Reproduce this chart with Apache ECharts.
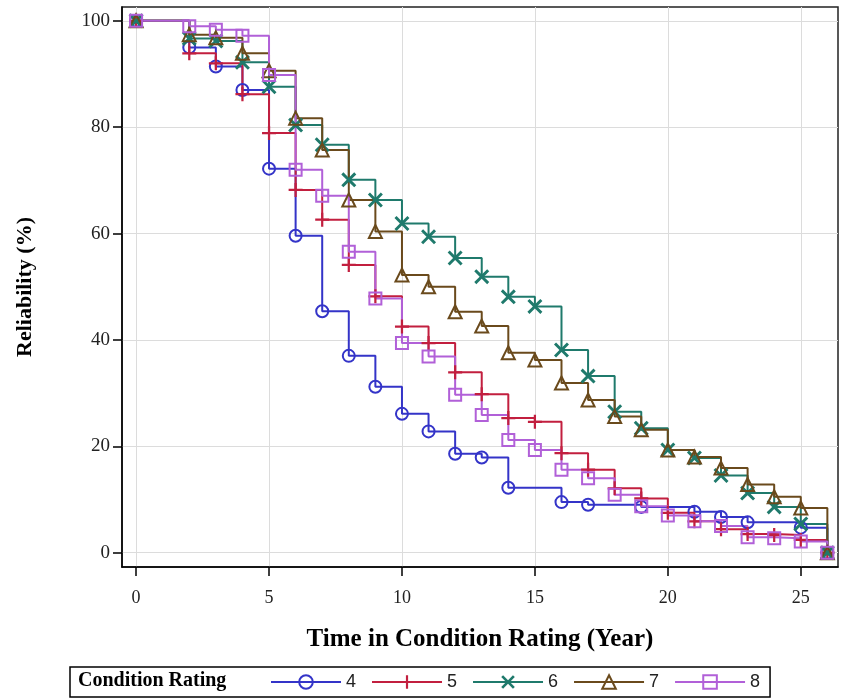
<!DOCTYPE html>
<html>
<head>
<meta charset="utf-8">
<title>Reliability by Condition Rating</title>
<script src="https://cdn.jsdelivr.net/npm/echarts@6/dist/echarts.min.js"></script>
<style>
  html, body { margin: 0; padding: 0; background: #fff; }
  #chart { width: 841px; height: 698px; }
</style>
</head>
<body>
<div id="chart"></div>
<script>
// --- data (time in years, reliability %) ---
const times4 = [0, 2, 3, 4, 5, 6, 7, 8, 9, 10, 11, 12, 13, 14, 16, 17, 19, 21, 22, 23, 25, 26]
const rel4 = [100, 95, 91.4, 87, 72.2, 59.6, 45.4, 37, 31.2, 26.1, 22.8, 18.6, 17.9, 12.2, 9.5, 9.0, 8.6, 7.7, 6.7, 5.7, 4.7, 0]

const times5 = [0, 2, 3, 4, 5, 6, 7, 8, 9, 10, 11, 12, 13, 14, 15, 16, 17, 18, 19, 20, 21, 22, 23, 24, 25, 26]
const rel5 = [100, 93.9, 92, 86.2, 78.9, 68.2, 62.6, 54.1, 48.2, 42.5, 39.4, 33.9, 29.8, 25.3, 24.6, 18.7, 15.6, 12.1, 10.2, 7.5, 5.9, 4.4, 3.5, 3.3, 2.4, 0]

const times6 = [0, 2, 3, 4, 5, 6, 7, 8, 9, 10, 11, 12, 13, 14, 15, 16, 17, 18, 19, 20, 21, 22, 23, 24, 25, 26]
const rel6 = [100, 96.7, 96.2, 92.2, 87.6, 80.4, 76.7, 70.1, 66.3, 61.9, 59.4, 55.4, 51.9, 48.1, 46.3, 38.1, 33.2, 26.5, 23.4, 19.3, 17.8, 14.5, 11.2, 8.6, 5.4, 0]

const times7 = [0, 2, 3, 4, 5, 6, 7, 8, 9, 10, 11, 12, 13, 14, 15, 16, 17, 18, 19, 20, 21, 22, 23, 24, 25, 26]
const rel7 = [100, 97.4, 96.8, 93.9, 90.6, 81.7, 75.7, 66.3, 60.4, 52.2, 50.0, 45.3, 42.6, 37.6, 36.2, 31.9, 28.7, 25.6, 23.1, 19.3, 18.0, 15.9, 12.8, 10.5, 8.4, 0]

const times8 = [0, 2, 3, 4, 5, 6, 7, 8, 9, 10, 11, 12, 13, 14, 15, 16, 17, 18, 19, 20, 21, 22, 23, 24, 25, 26]
const rel8 = [100, 99.0, 98.3, 97.2, 89.8, 72.0, 67.1, 56.6, 47.8, 39.4, 36.9, 29.7, 25.9, 21.2, 19.3, 15.6, 14.0, 10.9, 8.7, 7.0, 5.9, 5.0, 2.9, 2.7, 2.1, 0]

const ratingNames = ['4', '5', '6', '7', '8']
const xTicks = [0, 5, 10, 15, 20, 25]
const yTicks = [0, 20, 40, 60, 80, 100]

// --- marker shapes ---
const plusPath = 'path://M-1.6,-10H1.6V-1.6H10V1.6H1.6V10H-1.6V1.6H-10V-1.6H-1.6Z'
// X = plus rotated 45 degrees
const crossPath = (() => {
  const pts = [[-1.6, -10], [1.6, -10], [1.6, -1.6], [10, -1.6], [10, 1.6], [1.6, 1.6],
    [1.6, 10], [-1.6, 10], [-1.6, 1.6], [-10, 1.6], [-10, -1.6], [-1.6, -1.6]]
  const c = Math.SQRT1_2
  const r = pts.map(([x, y]) => [(x - y) * c, (x + y) * c].map((v) => v.toFixed(2)).join(','))
  return 'path://M' + r.join('L') + 'Z'
})()

const serif = '"Liberation Serif", "Times New Roman", serif'
const narrow = '"Liberation Sans Narrow", "Liberation Sans", Arial, sans-serif'

const makeSeries = (name, times, values, color, symbol, size, hollow) => ({
  name,
  type: 'line',
  step: 'end',
  data: times.map((t, i) => [t, values[i]]),
  symbol,
  symbolSize: size,
  showAllSymbol: true,
  lineStyle: { color, width: 2 },
  itemStyle: hollow
    ? { color: 'rgba(255,255,255,0)', borderColor: color, borderWidth: 2 }
    : { color, borderWidth: 0 },
  emphasis: { disabled: true },
  animation: false,
})

const chart = echarts.init(document.getElementById('chart'))

chart.setOption({
  backgroundColor: '#fff',
  animation: false,
  grid: {
    left: 122,
    right: 3,
    top: 7,
    bottom: 131,
    show: true,
    borderColor: '#222',
    borderWidth: 1.5,
  },
  xAxis: {
    type: 'value',
    min: -0.53,
    max: 26.4,
    name: 'Time in Condition Rating (Year)',
    nameLocation: 'middle',
    nameGap: 60,
    nameTextStyle: { fontFamily: serif, fontWeight: 'bold', fontSize: 25, color: '#000' },
    axisLine: { show: true, onZero: false, lineStyle: { color: '#000', width: 1.5 } },
    axisTick: { show: true, length: 9, customValues: xTicks, lineStyle: { color: '#000', width: 1.5 } },
    axisLabel: { customValues: xTicks, margin: 22, fontFamily: serif, fontSize: 18, color: '#222' },
    splitLine: { show: true, customValues: xTicks, lineStyle: { color: '#dcdcdc', width: 1 } },
  },
  yAxis: {
    type: 'value',
    min: -2.7,
    max: 102.6,
    name: 'Reliability (%)',
    nameLocation: 'middle',
    nameGap: 86,
    nameTextStyle: { fontFamily: serif, fontWeight: 'bold', fontSize: 22, color: '#000' },
    axisLine: { show: true, onZero: false, lineStyle: { color: '#000', width: 1.5 } },
    axisTick: { show: true, length: 9, customValues: yTicks, lineStyle: { color: '#000', width: 1.5 } },
    axisLabel: { customValues: yTicks, margin: 12, fontFamily: serif, fontSize: 19, color: '#222' },
    splitLine: { show: true, customValues: yTicks, lineStyle: { color: '#dcdcdc', width: 1 } },
  },
  legend: {
    data: ratingNames,
    left: 70,
    top: 667,
    padding: [6, 10, 6, 200],
    itemWidth: 70,
    itemHeight: 17,
    itemGap: 15,
    borderColor: '#000',
    borderWidth: 1.5,
    textStyle: { fontFamily: narrow, fontSize: 18, color: '#222' },
    selectedMode: false,
  },
  graphic: [
    {
      type: 'text',
      left: 78,
      top: 671,
      style: { text: 'Condition Rating', font: 'bold 20px ' + serif, fill: '#000' },
    },
  ],
  series: [
    makeSeries(ratingNames[0], times4, rel4, '#3434c8', 'circle', 12, true),
    makeSeries(ratingNames[1], times5, rel5, '#c21f3f', plusPath, 14, false),
    makeSeries(ratingNames[2], times6, rel6, '#1f7a6c', crossPath, 15, false),
    makeSeries(ratingNames[3], times7, rel7, '#6a4a1c', 'triangle', 13, true),
    makeSeries(ratingNames[4], times8, rel8, '#b160d8', 'rect', 12, true),
  ],
})
</script>
</body>
</html>
